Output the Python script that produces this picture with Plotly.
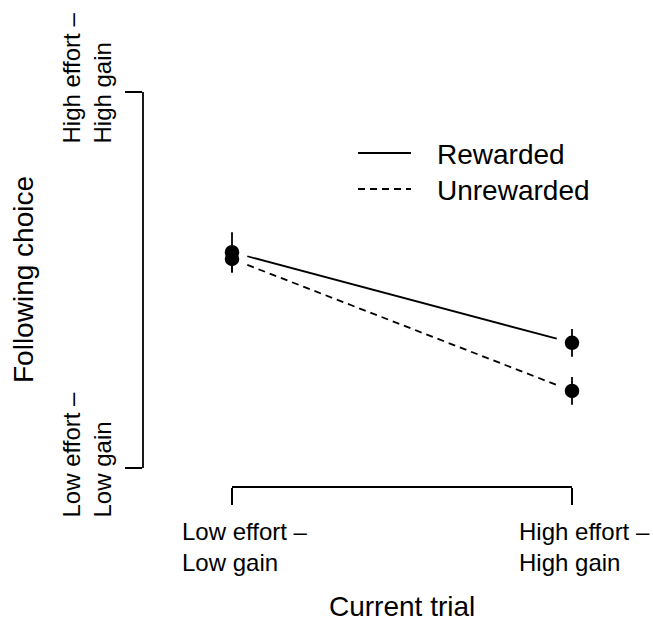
import plotly.graph_objects as go

# Trial types on the x axis (1 = low effort/low gain, 2 = high effort/high gain)
trial_pos = [1, 2]
trial_labels = ["Low effort –<br>Low gain", "High effort –<br>High gain"]

# Following-choice scale (0 = low effort/low gain, 1 = high effort/high gain)
choice_pos = [0, 1]
choice_labels = ["Low effort –<br>Low gain", "High effort –<br>High gain"]

# Mean following choice and standard error by outcome of the current trial
rewarded_mean = [0.574, 0.333]
rewarded_se = [0.053, 0.037]
unrewarded_mean = [0.556, 0.205]
unrewarded_se = [0.037, 0.037]

FONT = "Liberation Sans, Arial, Helvetica, sans-serif"
INK = "black"
LW = 1.8
TICK_SIZE = 24
TITLE_SIZE = 28

W, H = 653, 623
M_L, M_R, M_T, M_B = 143, 40, 60, 136
plot_w = W - M_L - M_R
plot_h = H - M_T - M_B


def gap_segment(xs, ys, t=0.045):
    """Connecting line with a small gap next to each point."""
    x0, x1 = xs
    y0, y1 = ys
    return ([x0 + t * (x1 - x0), x0 + (1 - t) * (x1 - x0)],
            [y0 + t * (y1 - y0), y0 + (1 - t) * (y1 - y0)])


fig = go.Figure()

for means, ses, dash in [(rewarded_mean, rewarded_se, "solid"),
                         (unrewarded_mean, unrewarded_se, "7px,5px")]:
    lx, ly = gap_segment(trial_pos, means)
    fig.add_trace(go.Scatter(x=lx, y=ly, mode="lines",
                             line=dict(color=INK, width=LW, dash=dash),
                             hoverinfo="skip", showlegend=False))
    fig.add_trace(go.Scatter(x=trial_pos, y=means, mode="markers",
                             marker=dict(color=INK, size=14.5, line=dict(width=0)),
                             error_y=dict(type="data", array=ses, visible=True,
                                          color=INK, thickness=LW, width=0),
                             showlegend=False))

# Axis lines spanning only the tick range
fig.add_shape(type="line", xref="x", yref="paper",
              x0=trial_pos[0], x1=trial_pos[-1], y0=0, y1=0,
              line=dict(color=INK, width=LW))
fig.add_shape(type="line", xref="paper", yref="y",
              x0=0, x1=0, y0=choice_pos[0], y1=choice_pos[-1],
              line=dict(color=INK, width=LW))

annotations = []
for xv, lab in zip(trial_pos, trial_labels):
    annotations.append(dict(x=xv, xref="x", y=0, yref="paper",
                            text=lab, showarrow=False, align="left",
                            xanchor="center", yanchor="middle",
                            xshift=12.5, yshift=-60,
                            font=dict(family=FONT, size=TICK_SIZE, color=INK)))
for yv, lab in zip(choice_pos, choice_labels):
    annotations.append(dict(x=0, xref="paper", y=yv, yref="y",
                            text=lab, showarrow=False, align="left",
                            textangle=-90, xanchor="center", yanchor="middle",
                            xshift=-57, yshift=13.5,
                            font=dict(family=FONT, size=TICK_SIZE, color=INK)))

# Axis titles
annotations.append(dict(x=sum(trial_pos) / 2, xref="x", y=0, yref="paper",
                        text="Current trial", showarrow=False,
                        xanchor="center", yanchor="middle", yshift=-119,
                        font=dict(family=FONT, size=TITLE_SIZE, color=INK)))
annotations.append(dict(x=0, xref="paper", y=sum(choice_pos) / 2, yref="y",
                        text="Following choice", showarrow=False, textangle=-90,
                        xanchor="center", yanchor="middle", xshift=-120,
                        font=dict(family=FONT, size=TITLE_SIZE, color=INK)))

# Legend drawn by hand
def px_x(p):
    return (p - M_L) / plot_w


def px_y(p):
    return (H - M_B - p) / plot_h


for label, dash, ypx in [("Rewarded", "solid", 153), ("Unrewarded", "7px,5px", 189)]:
    fig.add_shape(type="line", xref="paper", yref="paper",
                  x0=px_x(358), x1=px_x(411), y0=px_y(ypx), y1=px_y(ypx),
                  line=dict(color=INK, width=LW, dash=dash))
    annotations.append(dict(x=px_x(435), xref="paper", y=px_y(ypx + 1), yref="paper",
                            text=label, showarrow=False,
                            xanchor="left", yanchor="middle",
                            font=dict(family=FONT, size=TITLE_SIZE, color=INK)))

x_lo = trial_pos[0] - (232 - M_L) / 340
x_hi = trial_pos[-1] + (W - M_R - 572) / 340
y_lo = choice_pos[0] - (487 - 468) / 376
y_hi = choice_pos[-1] + (92 - M_T) / 376

fig.update_layout(
    width=W, height=H,
    margin=dict(l=M_L, r=M_R, t=M_T, b=M_B, pad=0),
    paper_bgcolor="white", plot_bgcolor="white",
    showlegend=False,
    annotations=annotations,
    font=dict(family=FONT, size=TICK_SIZE, color=INK),
    xaxis=dict(range=[x_lo, x_hi], tickvals=trial_pos, ticks="outside",
               ticklen=17, tickwidth=LW, tickcolor=INK, showticklabels=False,
               showgrid=False, zeroline=False, showline=False, fixedrange=True),
    yaxis=dict(range=[y_lo, y_hi], tickvals=choice_pos, ticks="outside",
               ticklen=17, tickwidth=LW, tickcolor=INK, showticklabels=False,
               showgrid=False, zeroline=False, showline=False, fixedrange=True),
)

fig.write_html("out.html", config={"displayModeBar": False})
